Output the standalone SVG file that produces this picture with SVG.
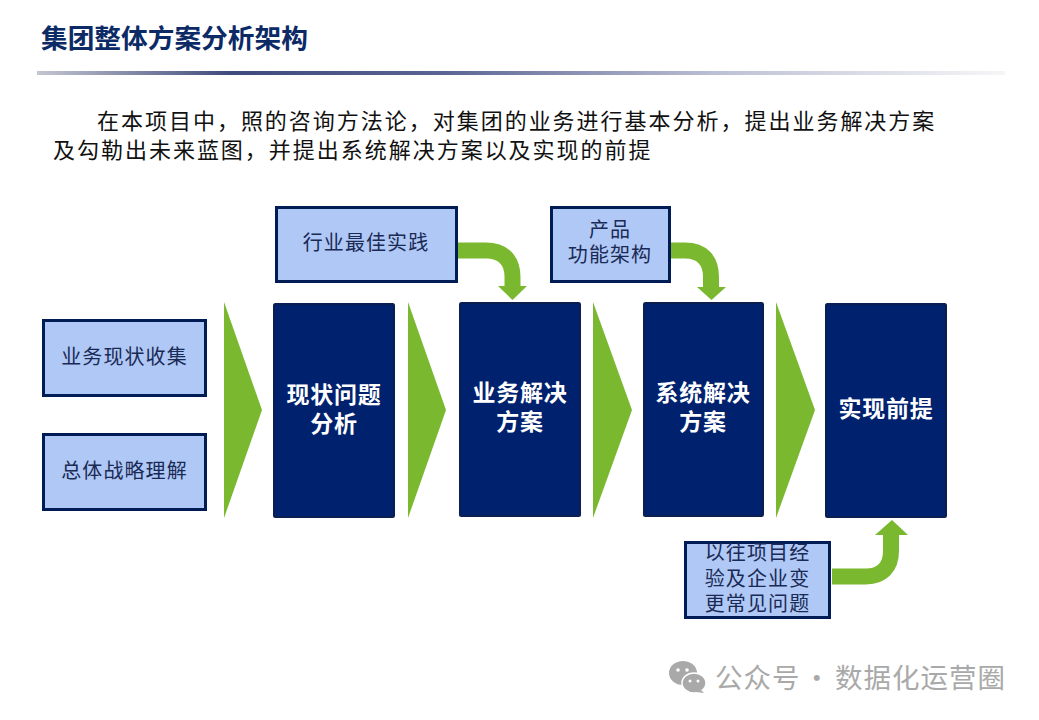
<svg xmlns="http://www.w3.org/2000/svg" width="1039" height="720" viewBox="0 0 1039 720">
<style>
text{font-family:"Noto Sans CJK SC","Noto Sans",sans-serif;text-anchor:middle}
.light{fill:#afc8f5;stroke:#001c55;stroke-width:3}
.dark{fill:#00226e;stroke:#0a1f50;stroke-width:2}
.chev{fill:#7ab92f}
.bend{fill:none;stroke:#7ab92f;stroke-width:16}
.lt{font-size:20px;letter-spacing:1.100px;fill:#1a2a55}
.dt{font-size:23px;font-weight:700;letter-spacing:.8px;fill:#fff}
.body{font-size:22px;letter-spacing:1.980px;fill:#111;text-anchor:start}
</style>
<defs>
<linearGradient id="bar" x1="0" x2="1" y1="0" y2="0">
<stop offset="0" stop-color="#c4c6d0"/><stop offset=".2" stop-color="#3e4a7c"/><stop offset=".42" stop-color="#5b6594"/><stop offset=".7" stop-color="#bcc0d4"/><stop offset="1" stop-color="#f6f6f8"/>
</linearGradient>
</defs>
<rect width="1039" height="720" fill="#fff"/>
<text x="41" y="48" style="text-anchor:start;font-size:26.700px;font-weight:700;fill:#0c2a66">集团整体方案分析架构</text>
<rect x="37" y="71" width="968" height="4" fill="url(#bar)"/>
<text class="body" x="97" y="129">在本项目中，照的咨询方法论，对集团的业务进行基本分析，提出业务解决方案</text>
<text class="body" x="53" y="158">及勾勒出未来蓝图，并提出系统解决方案以及实现的前提</text>
<g id="connectors">
<polygon class="chev" points="224,302 262,410 224,518"/>
<polygon class="chev" points="408,302 446,410 408,518"/>
<polygon class="chev" points="593,302 632,410 593,518"/>
<polygon class="chev" points="776,302 815,410 776,518"/>
<path class="bend" d="M456 250.500H486C503 250.500 512.500 260 512.500 277V288"/>
<polygon class="chev" points="498,286 527,286 512.500,300"/>
<path class="bend" d="M668 250.500H685C702 250.500 711 260 711 277V288"/>
<polygon class="chev" points="697,287 726,287 711.500,300"/>
<path class="bend" d="M832 576.500H866C882 576.500 891 567 891 551V533"/>
<polygon class="chev" points="875,535 908,535 892,520"/>
</g>
<g id="n-current"><rect class="light" x="43.500" y="320.500" width="162" height="75"/><text class="lt" x="124.500" y="364">业务现状收集</text></g>
<g id="n-strategy"><rect class="light" x="43.500" y="434.500" width="162" height="75"/><text class="lt" x="124.500" y="478">总体战略理解</text></g>
<g id="n-best"><rect class="light" x="276.500" y="207.500" width="180" height="74"/><text class="lt" x="366" y="250">行业最佳实践</text></g>
<g id="n-product"><rect class="light" x="551.500" y="207.500" width="118" height="74"/><text class="lt"><tspan x="610" y="237">产品</tspan><tspan x="610" y="262">功能架构</tspan></text></g>
<g id="n-exp"><rect class="light" x="685.500" y="542.500" width="144" height="75"/><text class="lt"><tspan x="757.500" y="560">以往项目经</tspan><tspan x="757.500" y="586">验及企业变</tspan><tspan x="757.500" y="611">更常见问题</tspan></text></g>
<g id="n-analysis"><rect class="dark" x="274" y="304" width="120" height="213" rx="1.500"/><text class="dt"><tspan x="334" y="403">现状问题</tspan><tspan x="334" y="432">分析</tspan></text></g>
<g id="n-biz"><rect class="dark" x="460" y="303" width="120" height="213" rx="1.500"/><text class="dt"><tspan x="520" y="401">业务解决</tspan><tspan x="520" y="430">方案</tspan></text></g>
<g id="n-sys"><rect class="dark" x="644" y="303" width="119" height="213" rx="1.500"/><text class="dt"><tspan x="703" y="401">系统解决</tspan><tspan x="703" y="430">方案</tspan></text></g>
<g id="n-pre"><rect class="dark" x="826" y="304" width="120" height="213" rx="1.500"/><text class="dt" x="886" y="417">实现前提</text></g>
<g id="watermark" fill="#a9a9a9">
<ellipse cx="683" cy="673" rx="14" ry="12"/>
<ellipse cx="694" cy="683" rx="12" ry="10" stroke="#fff" stroke-width="1.500"/>
<polygon points="701,690 704,693 696,692"/>
<circle cx="678" cy="670" r="1.800" fill="#fff"/><circle cx="687" cy="670" r="1.800" fill="#fff"/>
<circle cx="690" cy="681" r="1.500" fill="#fff"/><circle cx="698" cy="681" r="1.500" fill="#fff"/>
<text y="688" style="text-anchor:start;font-size:27.500px;letter-spacing:1px"><tspan x="715">公众号</tspan><tspan x="803">·</tspan><tspan x="835">数据化运营圈</tspan></text>
</g>
</svg>
